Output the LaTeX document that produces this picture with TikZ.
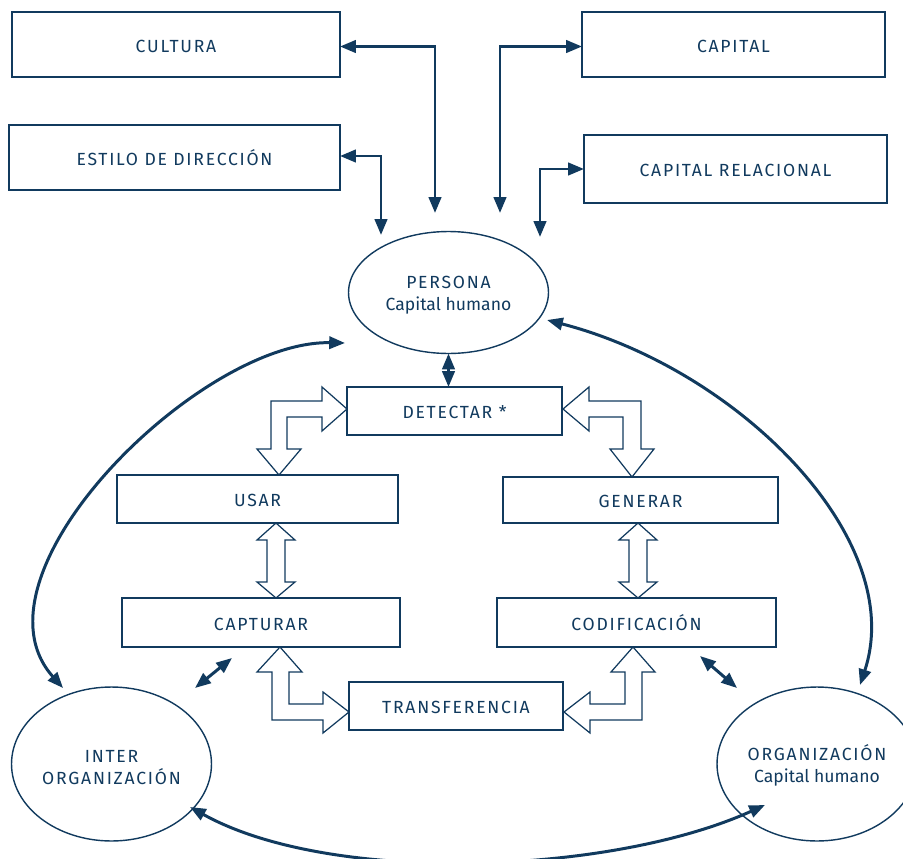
\documentclass[tikz,border=0pt]{standalone}
\usepackage{fontspec}
\setmainfont{Fira Sans}
\newfontfamily\capsfont{Fira Sans}[LetterSpace=10]
\usepackage{tikz}
\usetikzlibrary{shapes.geometric,arrows.meta}
\definecolor{navy}{HTML}{113A5E}
\newcommand{\lowerby}{\rule{0pt}{10.5pt}}

\begin{document}
\begin{tikzpicture}[x=0.02cm,y=-0.02cm,
    box/.style={draw=navy,line width=0.8pt,inner sep=0pt,outer sep=0pt,text=navy,
      text height=9pt,text depth=0pt,font=\capsfont\fontsize{10}{12.5}\selectfont},
    oval/.style={ellipse,draw=navy,line width=0.8pt,inner sep=0pt,outer sep=0pt,
      minimum width=4cm,text=navy,align=center,font=\fontsize{10}{12.5}\selectfont},
    link/.style={navy,line width=1.7pt,
      {Triangle[length=9pt,width=7pt]}-{Triangle[length=9pt,width=7pt]}},
    hollow/.style={draw=navy,line width=0.7pt,fill=white,line join=miter}]
        % Page size
        \useasboundingbox (0,0) rectangle (903,859);
        \clip (0,0) rectangle (903,859);

        % Outer factors
        \node[box,minimum width=6.56cm,minimum height=1.3cm] (cultura) at (176,44.5) {CULTURA};
        \node[box,minimum width=6.62cm,minimum height=1.3cm] (estilo) at (174.5,157.5) {ESTILO DE DIRECCIÓN};
        \node[box,minimum width=6.06cm,minimum height=1.3cm] (capital) at (733.5,44.5) {CAPITAL};
        \node[box,minimum width=6.06cm,minimum height=1.36cm] (caprel) at (735.5,169) {CAPITAL RELACIONAL};

        % Actors
        \node[oval,minimum height=2.44cm] (persona) at (448.5,292.5) {\lowerby{\capsfont PERSONA}\\Capital humano};
        \node[oval,minimum height=3.08cm] (inter) at (111.5,764) {\lowerby\capsfont INTER\\\capsfont ORGANIZACIÓN};
        \node[oval,minimum height=3.08cm] (organiz) at (817,764) {\lowerby{\capsfont ORGANIZACIÓN}\\Capital humano};

        % Knowledge cycle
        \node[box,minimum width=4.3cm,minimum height=0.96cm] (detectar) at (454.5,411) {DETECTAR *};
        \node[box,minimum width=5.62cm,minimum height=0.96cm] (usar) at (257.5,499) {USAR};
        \node[box,minimum width=5.5cm,minimum height=0.92cm] (generar) at (640.5,500) {GENERAR};
        \node[box,minimum width=5.56cm,minimum height=0.98cm] (capturar) at (261,622.5) {CAPTURAR};
        \node[box,minimum width=5.58cm,minimum height=0.98cm] (codif) at (636.5,622.5) {CODIFICACIÓN};
        \node[box,minimum width=4.28cm,minimum height=0.96cm] (transf) at (456,706) {TRANSFERENCIA};

        % Free ends of the connectors
        \coordinate (c1) at (435,213);
        \coordinate (c2) at (381,235);
        \coordinate (c3) at (500,213);
        \coordinate (c4) at (540,237);
        \coordinate (pl) at (345,343);
        \coordinate (il) at (63,688);
        \coordinate (pr) at (547,320);
        \coordinate (ot) at (860,685);
        \coordinate (ib) at (190,807);
        \coordinate (ob) at (765,805);
        \coordinate (d1) at (195,688);
        \coordinate (d2) at (232,658);
        \coordinate (d3) at (700,656);
        \coordinate (d4) at (737,688);

        % Connectors to the person
        \draw[link] (cultura.east) ++(0,2) -| (c1);
        \draw[link] (estilo.east) ++(0,-1.5) -| (c2);
        \draw[link] (capital.west) ++(0,2) -| (c3);
        \draw[link] (caprel.west) -| (c4);
        \draw[link] (persona.south) -- (persona.south |- detectar.north);

        % Curved connectors between actors
        \draw[link] (pl) .. controls (200,340) and (-38,575) .. (il);
        \draw[link] (pr) .. controls (740,370) and (908,540) .. (ot);
        \draw[link] (ib) .. controls (330,885) and (610,875) .. (ob);
        \draw[link] (d1) -- (d2);
        \draw[link] (d3) -- (d4);

        % Hollow arrows of the cycle
        \draw[hollow] (347,409) -- (322,387) -- (322,401) -- (271,401) -- (271,449) -- (257,449)
            -- (279,475) -- (301,449) -- (287,449) -- (287,417) -- (322,417) -- (322,431) -- cycle;
        \draw[hollow] (563,409) -- (589,387) -- (589,401) -- (641,401) -- (641,449) -- (654,449)
            -- (632,477) -- (610,449) -- (623,449) -- (623,417) -- (589,417) -- (589,431) -- cycle;
        \draw[hollow] (276,523) -- (295,540) -- (285,540) -- (285,582) -- (295,582) -- (276,598)
            -- (257,582) -- (267,582) -- (267,540) -- (257,540) -- cycle;
        \draw[hollow] (638,523) -- (657,540) -- (647,540) -- (647,582) -- (657,582) -- (638,598)
            -- (619,582) -- (629,582) -- (629,540) -- (619,540) -- cycle;
        \draw[hollow] (280,647) -- (302,672) -- (289,672) -- (289,704) -- (323,704) -- (323,692)
            -- (349,712) -- (323,733) -- (323,720) -- (272,720) -- (272,672) -- (257,672) -- cycle;
        \draw[hollow] (633,647) -- (655,672) -- (642,672) -- (642,720) -- (590,720) -- (590,733)
            -- (564,712) -- (590,692) -- (590,704) -- (625,704) -- (625,672) -- (611,672) -- cycle;

\end{tikzpicture}
\end{document}
